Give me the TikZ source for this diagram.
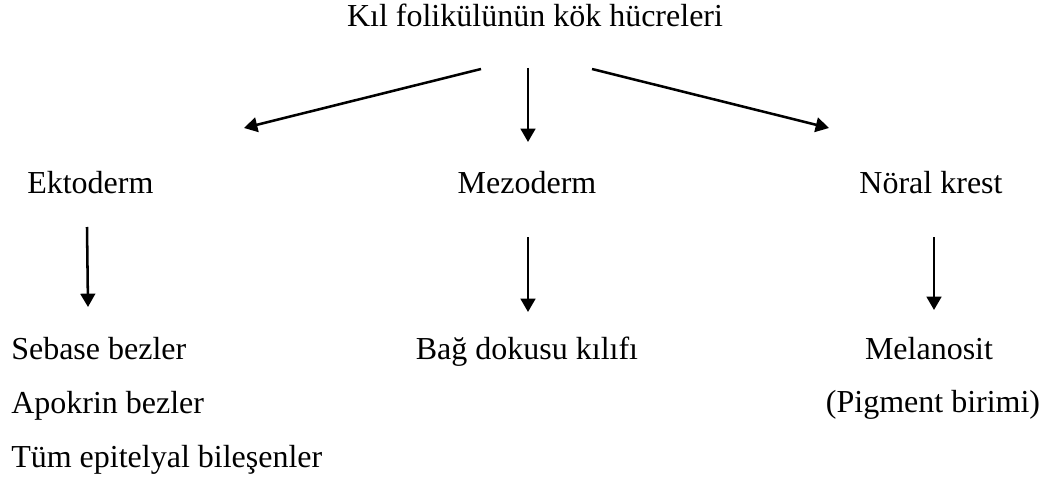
\documentclass[tikz,border=0pt]{standalone}
\usepackage{fontspec}
\setmainfont{Liberation Serif}
\usetikzlibrary{arrows.meta}
\begin{document}
\begin{tikzpicture}[x=0.75pt,y=-0.75pt,
  lbl/.style={inner sep=0pt,anchor=base,font=\fontsize{24}{28}\selectfont},
  lbll/.style={lbl,anchor=base west},
  arr/.style={line width=1.9pt,-{Triangle[length=10pt,width=11pt]}}]
\useasboundingbox (0,0) rectangle (1045,481);
\node[lbl] (title) at (535,27) {Kıl folikülünün kök hücreleri};
\node[lbll] (ekto) at (27,194) {Ektoderm};
\node[lbl] (mezo) at (527,194) {Mezoderm};
\node[lbl] (noral) at (931,194) {Nöral krest};
\node[lbll] (seb) at (11,359) {Sebase bezler};
\node[lbl] (bag) at (527,359) {Bağ dokusu kılıfı};
\node[lbl] (mel) at (929,359) {Melanosit};
\node[lbll] (apo) at (11,413) {Apokrin bezler};
\node[lbl] (pig) at (933,412) {(Pigment birimi)};
\node[lbll] (tum) at (11,467) {Tüm epitelyal bileşenler};
\coordinate (t1) at (481,69); \coordinate (e1) at (244,128);
\coordinate (t2) at (528,68); \coordinate (e2) at (528,142);
\coordinate (t3) at (592,69); \coordinate (e3) at (829,128);
\coordinate (a1) at (87,227); \coordinate (b1) at (88,307);
\coordinate (a2) at (528,237); \coordinate (b2) at (528,312);
\coordinate (a3) at (934,237); \coordinate (b3) at (934,310);
\draw[arr] (t1) -- (e1);
\draw[arr] (t2) -- (e2);
\draw[arr] (t3) -- (e3);
\draw[arr] (a1) -- (b1);
\draw[arr] (a2) -- (b2);
\draw[arr] (a3) -- (b3);
\end{tikzpicture}
\end{document}
